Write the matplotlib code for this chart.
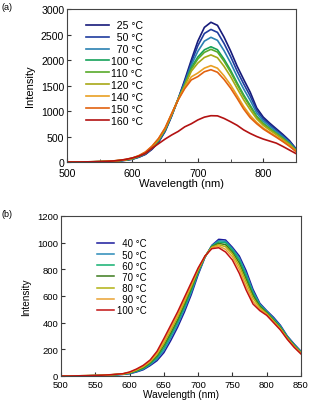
import matplotlib as mpl, matplotlib.pyplot as plt, numpy as np
from matplotlib.ticker import MultipleLocator

plt.rcParams['font.family'] = ['Liberation Sans', 'DejaVu Sans']

# Wavelength grid (nm), shared by both panels
wl = list(range(500, 851, 10))

# Panel (a) spectra
temps_a = ['25', '50', '70', '100', '110', '120', '140', '150', '160']
colors_a = ['#161a7a', '#1f3c9e', '#2a80b2', '#16a25a', '#58aa2a', '#a8a816',
            '#e9a022', '#e2620f', '#b31212']
spec_a = [
    [0, 0, 1, 2, 3, 5, 8, 14, 22, 35, 55, 95, 150, 250, 390, 600, 900, 1240,
     1610, 2000, 2370, 2640, 2740, 2680, 2450, 2180, 1880, 1620, 1370, 1060, 880, 760, 650, 540, 420, 260],
    [0, 0, 1, 2, 3, 5, 9, 15, 24, 37, 58, 99, 157, 260, 402, 612, 910, 1238,
     1580, 1950, 2280, 2520, 2600, 2542, 2326, 2070, 1786, 1533, 1295, 1014, 845, 731, 625, 519, 404, 252],
    [0, 0, 1, 2, 4, 6, 9, 16, 25, 39, 61, 103, 163, 268, 413, 622, 918, 1236,
     1550, 1900, 2170, 2370, 2445, 2386, 2184, 1946, 1678, 1434, 1210, 961, 805, 698, 597, 495, 385, 242],
    [0, 0, 1, 2, 4, 6, 10, 17, 27, 42, 65, 109, 172, 280, 428, 636, 928, 1234,
     1515, 1850, 2060, 2200, 2260, 2202, 2018, 1800, 1552, 1318, 1110, 899, 759, 659, 564, 467, 363, 231],
    [0, 0, 1, 2, 4, 6, 10, 17, 28, 43, 67, 112, 176, 285, 434, 642, 931, 1232,
     1505, 1820, 2020, 2150, 2210, 2156, 1977, 1764, 1521, 1289, 1085, 883, 747, 649, 556, 460, 357, 229],
    [0, 0, 1, 3, 4, 7, 11, 18, 29, 45, 70, 116, 182, 292, 442, 650, 936, 1230,
     1490, 1780, 1940, 2050, 2100, 2045, 1877, 1676, 1445, 1220, 1025, 846, 719, 625, 536, 443, 344, 222],
    [0, 0, 1, 3, 5, 7, 12, 20, 31, 48, 75, 123, 192, 305, 456, 662, 944, 1226,
     1460, 1670, 1745, 1840, 1890, 1839, 1691, 1513, 1304, 1090, 913, 777, 667, 582, 499, 412, 319, 210],
    [0, 0, 1, 3, 5, 8, 12, 21, 32, 50, 78, 127, 198, 312, 463, 670, 950, 1220,
     1440, 1610, 1675, 1770, 1810, 1760, 1620, 1450, 1250, 1040, 870, 750, 647, 565, 485, 400, 310, 205],
    [0, 0, 1, 3, 5, 8, 12, 20, 32, 52, 80, 115, 170, 270, 360, 450, 530, 600,
     690, 750, 825, 880, 908, 905, 855, 790, 720, 630, 560, 500, 450, 410, 370, 305, 235, 165],
]

# Panel (b) spectra
temps_b = ['40', '50', '60', '70', '80', '90', '100']
colors_b = ['#1a1a9c', '#2a8ab8', '#12b070', '#3c7a1c', '#b2b212', '#e9a232', '#c21212']
spec_b = [
    [0, 0, 1, 1, 2, 3, 4, 6, 9, 12, 17, 30, 47, 78, 115, 175, 265, 365, 480, 610, 760, 890,
     980, 1025, 1020, 965, 900, 790, 650, 545, 490, 440, 380, 300, 240, 185],
    [0, 0, 1, 1, 2, 3, 4, 6, 9, 13, 19, 33, 52, 85, 127, 192, 285, 385, 500, 627, 770, 892,
     977, 1015, 1010, 955, 885, 770, 635, 538, 485, 432, 374, 296, 236, 182],
    [0, 0, 1, 1, 2, 3, 5, 7, 10, 14, 21, 37, 57, 92, 138, 210, 305, 405, 520, 642, 780, 894,
     974, 1005, 1000, 945, 868, 750, 620, 530, 480, 425, 368, 292, 232, 179],
    [0, 0, 1, 2, 2, 3, 5, 7, 11, 15, 23, 40, 62, 99, 150, 228, 322, 422, 537, 657, 788, 896,
     970, 995, 985, 930, 848, 728, 605, 522, 475, 418, 362, 288, 228, 176],
    [0, 0, 1, 2, 3, 4, 5, 8, 12, 15, 25, 44, 68, 106, 162, 245, 342, 442, 555, 672, 795, 897,
     966, 985, 970, 915, 826, 705, 585, 512, 468, 412, 356, 284, 224, 173],
    [0, 0, 1, 2, 3, 4, 6, 8, 12, 16, 27, 48, 74, 113, 173, 262, 360, 460, 572, 687, 803, 898,
     961, 975, 950, 895, 800, 675, 560, 500, 462, 406, 350, 280, 220, 170],
    [0, 0, 1, 2, 3, 4, 6, 9, 13, 17, 30, 52, 80, 120, 185, 280, 380, 480, 590, 700, 810, 900,
     955, 962, 930, 870, 770, 645, 540, 490, 455, 400, 345, 275, 215, 165],
]

fig = plt.figure(figsize=(3.11, 4.02), dpi=100)
ax1 = fig.add_axes([0.2154, 0.5945, 0.7363, 0.3806])
ax2 = fig.add_axes([0.1961, 0.0622, 0.7717, 0.3980])

for t, c, s in zip(temps_a, colors_a, spec_a):
    lab = ('  ' * (3 - len(t))) + t + ' °C'
    ax1.plot(wl, s, color=c, lw=1.2, label=lab)
for t, c, s in zip(temps_b, colors_b, spec_b):
    lab = ('  ' * (3 - len(t))) + t + ' °C'
    ax2.plot(wl, s, color=c, lw=1.1, label=lab)

ax1.set_xlim(500, 850)
ax1.set_ylim(0, 3000)
ax1.xaxis.set_major_locator(MultipleLocator(100))
ax1.xaxis.set_minor_locator(MultipleLocator(50))
ax1.yaxis.set_major_locator(MultipleLocator(500))
ax2.set_xlim(500, 850)
ax2.set_ylim(0, 1200)
ax2.xaxis.set_major_locator(MultipleLocator(50))
ax2.yaxis.set_major_locator(MultipleLocator(200))

for ax, fs, lfs, xpad, ylp in ((ax1, 7.6, 8, 4, 4), (ax2, 6.8, 7.2, 3.2, 4)):
    ax.tick_params(which='both', direction='in', labelsize=fs, pad=2, color='#333333')
    ax.tick_params(axis='x', which='both', pad=xpad)
    ax.tick_params(which='major', length=3)
    ax.tick_params(which='minor', length=2)
    for sp in ax.spines.values():
        sp.set_color('#444444')
        sp.set_linewidth(0.8)
    ax.set_xlabel('Wavelength (nm)', fontsize=lfs, labelpad=0)
    ax.set_ylabel('Intensity', fontsize=lfs, labelpad=ylp)

ax1.legend(loc='upper left', bbox_to_anchor=(0.085, 0.925), frameon=False, fontsize=7.6,
           handlelength=2.1, handletextpad=0.2, labelspacing=0.18, borderpad=0, borderaxespad=0)
ax2.legend(loc='upper left', bbox_to_anchor=(0.15, 0.86), frameon=False, fontsize=6.9,
           handlelength=1.8, handletextpad=0.3, labelspacing=0.12, borderpad=0, borderaxespad=0)

fig.text(0.006, 0.993, '(a)', fontsize=6.5, va='top', ha='left')
fig.text(0.006, 0.478, '(b)', fontsize=6.5, va='top', ha='left')

fig.savefig('out.png', dpi=100)
